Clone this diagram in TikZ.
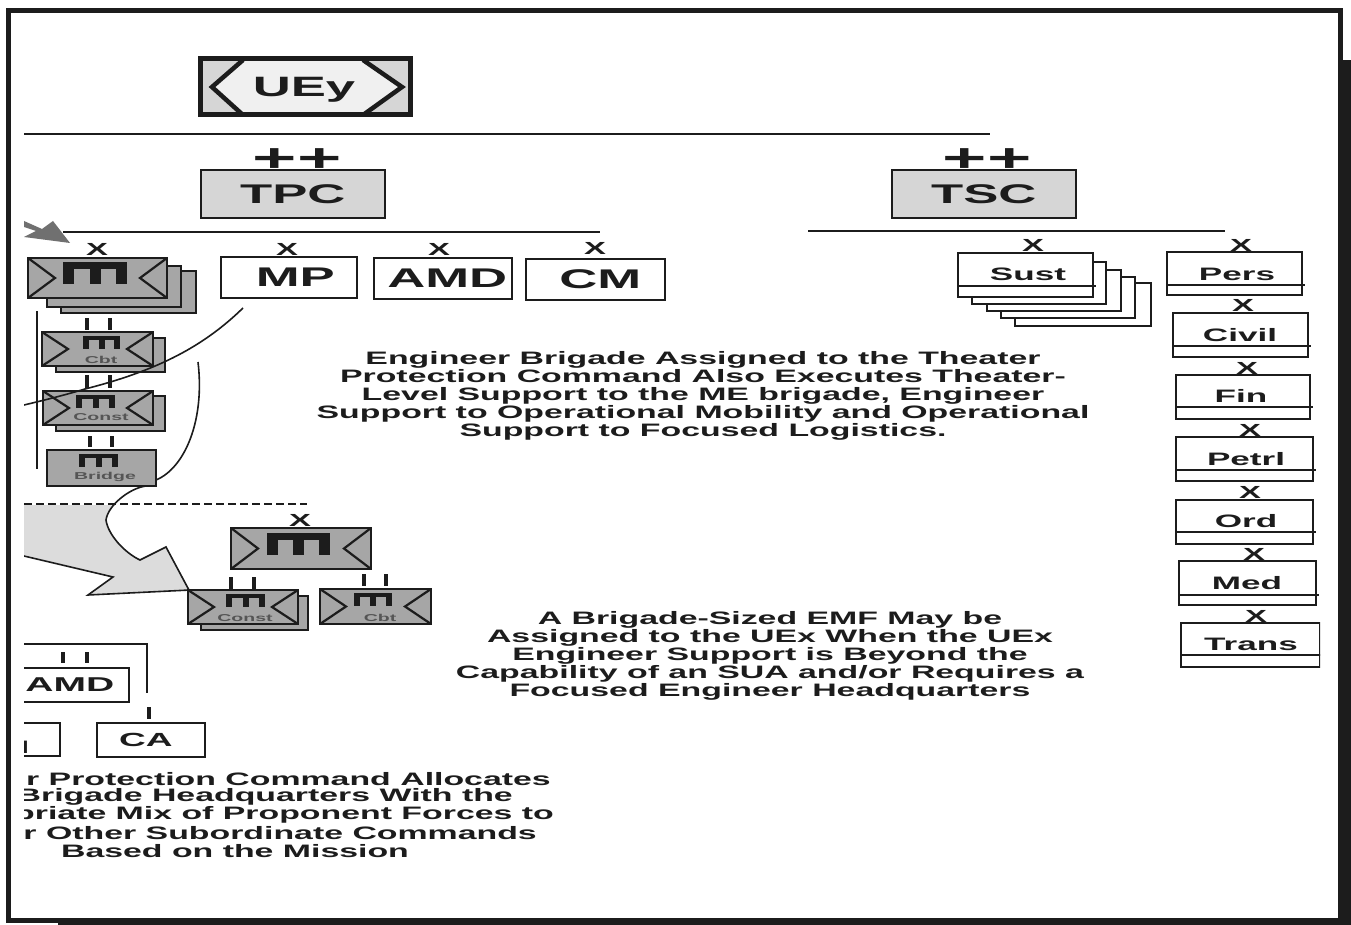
\documentclass[tikz,border=0pt]{standalone}
\usepackage{fontspec}
\setmainfont{Liberation Sans}
\newfontfamily\wa{Liberation Sans}[FakeStretch=1.88]
\newfontfamily\wb{Liberation Sans}[FakeStretch=1.95]
\setlength{\lineskiplimit}{-30pt}
\definecolor{ink}{HTML}{1C1C1C}
\definecolor{fillA}{HTML}{A6A6A6}
\definecolor{fillB}{HTML}{D6D6D6}
\definecolor{fillC}{HTML}{DCDCDC}
\definecolor{arrowdark}{HTML}{707070}
\tikzset{
  wline/.style={draw=ink,line width=1.6pt},
  plainbox/.style={wline,fill=white},
  greybox/.style={wline,fill=fillA},
  lab/.style={inner sep=0pt,text=ink,font=\wb\bfseries\fontsize{27}{27}\selectfont},
  smalllab/.style={inner sep=0pt,text=ink,font=\wb\bfseries\fontsize{18}{18}\selectfont},
  tinylab/.style={inner sep=0pt,text=ink!75,font=\wb\bfseries\fontsize{10}{10}\selectfont},
  xmark/.style={inner sep=0pt,text=ink,font=\wa\bfseries\fontsize{17.5}{17.5}\selectfont},
  plusmark/.style={inner sep=0pt,text=ink,font=\wb\bfseries\fontsize{39}{39}\selectfont},
  bodytext/.style={inner sep=0pt,text=ink,font=\wa\bfseries\fontsize{18}{18}\selectfont,align=center},
  bodyline/.style={inner sep=0pt,text=ink,font=\wa\bfseries\fontsize{18}{18}\selectfont},
  tick/.style={draw=ink,line width=3.6pt},
}
% box with chevrons: #1 left, #2 top, #3 right, #4 bottom, #5 chevron depth
\newcommand{\chevbox}[5]{%
  \draw[greybox] (#1,#2) rectangle (#3,#4);
  \draw[draw=ink,line width=2.2pt] (#1,#2) -- ({#1+#5},{(#2+#4)/2}) -- (#1,#4);
  \draw[draw=ink,line width=2.2pt] (#3,#2) -- ({#3-#5},{(#2+#4)/2}) -- (#3,#4);
}
% engineer sign: #1 left, #2 top, #3 right, #4 bottom, #5 line thickness
\newcommand{\engsign}[5]{%
  \fill[ink] (#1,#2) rectangle (#3,{#2+(#4-#2)*0.34});
  \fill[ink] (#1,#2) rectangle ({#1+#5},#4);
  \fill[ink] ({(#1+#3)/2-#5/2},#2) rectangle ({(#1+#3)/2+#5/2},#4);
  \fill[ink] ({#3-#5},#2) rectangle (#3,#4);
}
\newcommand{\ticks}[4]{%
  \draw[tick] (#1,#3) -- (#1,#4);
  \draw[tick] (#2,#3) -- (#2,#4);
}
\newcommand{\suppbox}[5]{%
  \draw[plainbox] (#1,#2) rectangle (#3,#4);
  \draw[draw=ink,line width=1.2pt] (#1,#5) -- ({#3+3},#5);
}
\begin{document}
\begin{tikzpicture}[x=1pt,y=-1pt]
\useasboundingbox (0,0) rectangle (1351,925);
\fill[white] (0,0) rectangle (1351,925);

% page frame
\fill[ink] (1343,60) rectangle (1351,925);
\fill[ink] (58,921) rectangle (1351,925);
\draw[draw=ink,line width=5pt] (8.5,10.5) rectangle (1340.5,920.5);

\begin{scope}
\clip (24,20) rectangle (1320,915);

% broad arrow
\fill[fillC] (24,505) -- (112,505) -- (106,520) .. controls (108,535) and (125,553) .. (140,560) -- (166,547) -- (190,590) -- (88,595) -- (113,577) -- (24,555) -- cycle;
\draw[wline] (190,590) -- (88,595) -- (113,577) -- (24,556);
\draw[wline] (190,592) -- (166,547) -- (140,560) .. controls (125,553) and (108,535) .. (106,520) .. controls (108,505) and (130,488) .. (146,486);
\draw[wline] (156,480) .. controls (185,468) and (205,420) .. (198,362);

% small dark arrow
\fill[arrowdark] (24,221) -- (42,229) -- (53,221) -- (70,243) -- (24,237) -- (36,231) -- (24,227) -- cycle;

% rules
\draw[draw=ink,line width=1.2pt] (24,134) -- (990,134);
\draw[draw=ink,line width=1.2pt] (63,232) -- (600,232);
\draw[draw=ink,line width=1.2pt] (808,231) -- (1225,231);
\draw[draw=ink,line width=1.2pt,dashed,dash pattern=on 8pt off 4pt] (24,504) -- (307,504);

% UEy
\fill[fillB] (198,57) rectangle (412,117);
\fill[white!94!black] (243,60) -- (212,87) -- (243,115) -- (363,115) -- (402,87) -- (363,60) -- cycle;
\draw[draw=ink,line width=5pt] (200,59) rectangle (410,115);
\draw[draw=ink,line width=4.5pt] (243,60) -- (212,87) -- (243,115);
\draw[draw=ink,line width=4.5pt] (363,60) -- (402,87) -- (363,115);
\node[lab,font=\wa\bfseries\fontsize{28}{28}\selectfont] (uey) at (304,90) {UEy};

% plus signs
\node[plusmark] (pl1) at (297,160) {++};
\node[plusmark] (pl2) at (987,160) {++};
% TPC / TSC
\node[draw=ink,line width=1.6pt,fill=fillB,minimum width=184pt,minimum height=48pt,inner sep=0pt,anchor=north west,
  lab] (tpc) at (200,169) {TPC};
\node[draw=ink,line width=1.6pt,fill=fillB,minimum width=184pt,minimum height=48pt,inner sep=0pt,anchor=north west,
  lab] (tsc) at (891,169) {TSC};

% top brigade stack
\draw[greybox] (61,271) rectangle (196,313);
\draw[greybox] (47,266) rectangle (181,307);
\chevbox{28}{258}{167}{298}{27}
\engsign{63}{262}{127}{284}{11}
\node[xmark] (x1) at (97,249) {X};

% cbt
\draw[greybox] (56,338) rectangle (165,372);
\chevbox{42}{332}{153}{366}{26}
\engsign{83}{336}{120}{349}{6}
\node[tinylab] (cbt1) at (101,360) {Cbt};
% const
\draw[greybox] (56,396) rectangle (165,431);
\chevbox{43}{391}{153}{425}{26}
\engsign{76}{395}{115}{408}{6}
\node[tinylab] (const1) at (101,417) {Const};
% bridge
\draw[greybox] (47,450) rectangle (156,486);
\engsign{79}{454}{118}{467}{6}
\node[tinylab] (bridge) at (105,477) {Bridge};

\ticks{87}{110}{318}{330}
\ticks{87}{110}{375}{388}
\ticks{90}{112}{436}{447}
\draw[wline] (37,311) -- (37,469);

% thin curve
\draw[wline] (243,308) .. controls (205,345) and (160,370) .. (85,389) .. controls (65,395) and (45,400) .. (24,405);

% MP, AMD, CM
\node[plainbox,lab,minimum width=136pt,minimum height=41pt,anchor=north west] (mp) at (220,256) {\hspace*{13pt}\raisebox{-2pt}{MP}};
\node[plainbox,lab,minimum width=138pt,minimum height=41pt,anchor=north west] (amd) at (373,257) {\hspace*{9pt}\raisebox{-2pt}{AMD}};
\node[plainbox,lab,minimum width=139pt,minimum height=41pt,anchor=north west] (cm) at (525,258) {\hspace*{10pt}\raisebox{-2pt}{CM}};
\node[xmark] (x2) at (287,249) {X};
\node[xmark] (x3) at (439,249) {X};
\node[xmark] (x4) at (595,248) {X};

% Sust stack
\draw[plainbox] (1015,283) rectangle (1151,326);
\draw[plainbox] (1001,277) rectangle (1135,318);
\draw[plainbox] (987,270) rectangle (1121,311);
\draw[plainbox] (972,262) rectangle (1106,304);
\suppbox{958}{253}{1093}{297}{286}
\node[smalllab] (sust) at (1028,274) {Sust};
\node[xmark] (x5) at (1033,245) {X};

% support column
\suppbox{1167}{252}{1302}{295}{285}
\suppbox{1173}{313}{1308}{357}{346}
\suppbox{1176}{375}{1310}{419}{407}
\suppbox{1176}{437}{1313}{481}{470}
\suppbox{1176}{500}{1313}{544}{532}
\suppbox{1179}{561}{1316}{605}{595}
\suppbox{1181}{623}{1320}{667}{655}
\node[smalllab] (pers) at (1237,274) {Pers};
\node[smalllab] (civil) at (1240,335) {Civil};
\node[smalllab] (fin) at (1241,396) {Fin};
\node[smalllab] (petrl) at (1246,459) {Petrl};
\node[smalllab] (ord) at (1246,521) {Ord};
\node[smalllab] (med) at (1247,583) {Med};
\node[smalllab] (trans) at (1251,644) {Trans};
\node[xmark] (x6) at (1241,245) {X};
\node[xmark] (x7) at (1243,305) {X};
\node[xmark] (x8) at (1247,368) {X};
\node[xmark] (x9) at (1250,430) {X};
\node[xmark] (x10) at (1250,492) {X};
\node[xmark] (x11) at (1254,554) {X};
\node[xmark] (x12) at (1256,616) {X};

% lower brigade
\chevbox{231}{528}{371}{569}{27}
\engsign{267}{533}{330}{555}{11}
\node[xmark] (x13) at (300,520) {X};
\ticks{231}{254}{577}{589}
\ticks{364}{386}{574}{586}
\draw[greybox] (201,596) rectangle (308,630);
\chevbox{188}{590}{298}{624}{26}
\engsign{226}{594}{265}{607}{6}
\node[tinylab] (const2) at (245,618) {Const};
\chevbox{320}{589}{431}{624}{26}
\engsign{354}{593}{392}{606}{6}
\node[tinylab] (cbt2) at (380,618) {Cbt};

% lower left cluster
\draw[wline] (24,644) -- (147,644) -- (147,693);
\ticks{63}{87}{652}{663}
\draw[tick] (149,707) -- (149,719);
\node[plainbox,smalllab,font=\wb\bfseries\fontsize{20}{20}\selectfont,minimum width=130pt,minimum height=34pt,anchor=north east,text width=110pt,align=right] (amd2) at (130,667) {\raisebox{-3pt}{AMD}\hspace*{5pt}};
\draw[plainbox] (10,723) rectangle (60,756);
\node[smalllab] (frag) at (24.5,747) {I};
\node[plainbox,smalllab,font=\wb\bfseries\fontsize{19}{19}\selectfont,minimum width=108pt,minimum height=34pt,anchor=north west] (ca) at (96,722) {\raisebox{-3pt}{CA}\hspace*{10pt}};

% central texts
\node[bodytext] (t1) at (703,396) {Engineer Brigade Assigned to the Theater\\Protection Command Also Executes Theater-\\Level Support to the ME brigade, Engineer\\Support to Operational Mobility and Operational\\Support to Focused Logistics.};
\node[bodytext] (t2) at (770,656) {A Brigade-Sized EMF May be\\Assigned to the UEx When the UEx\\Engineer Support is Beyond the\\Capability of an SUA and/or Requires a\\Focused Engineer Headquarters};

% clipped lower text
\node[bodyline,anchor=east] (l1) at (551,779) {r Protection Command Allocates};
\node[bodyline,anchor=east] (l2) at (513,797) {Brigade Headquarters With the};
\node[bodyline,anchor=east] (l3) at (554,815) {priate Mix of Proponent Forces to};
\node[bodyline,anchor=east] (l4) at (537,833) {r Other Subordinate Commands};
\node[bodyline] (l5) at (235,851) {Based on the Mission};
\end{scope}
\end{tikzpicture}
\end{document}
